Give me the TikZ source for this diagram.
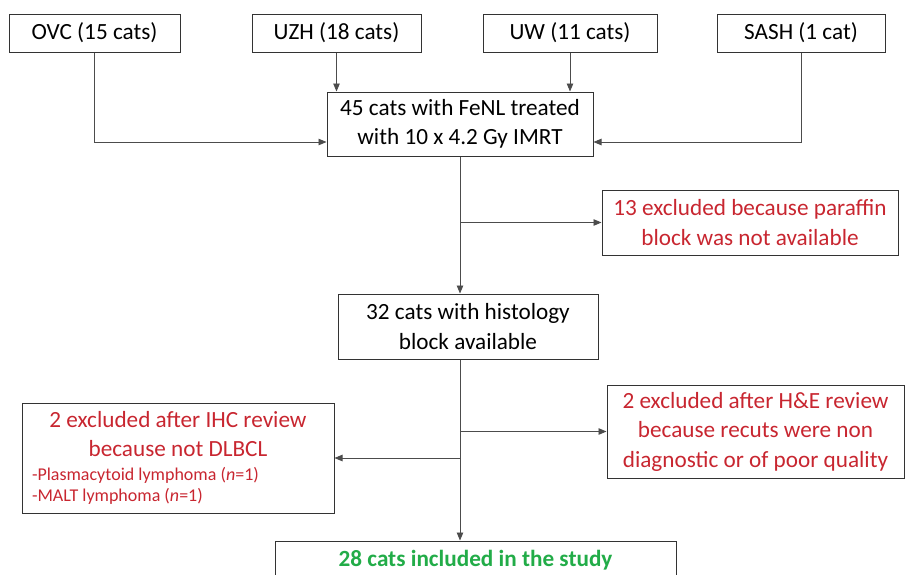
\documentclass[tikz,border=0pt]{standalone}
\usepackage{fontspec}
\setmainfont{Carlito}
\usetikzlibrary{arrows.meta}
\definecolor{exclred}{RGB}{200,38,48}
\definecolor{keepgreen}{RGB}{34,172,72}
\tikzset{
  box/.style={draw=black!80,line width=1pt,rectangle,inner sep=0pt,align=center,font=\fontsize{23.2}{29.5}\selectfont},
  excl/.style={box,text=exclred},
  flow/.style={draw=black!70,line width=0.9pt,-{Triangle[length=8pt,width=6.5pt]}},
}
\begin{document}
\begin{tikzpicture}[x=1pt,y=-1pt]
        \clip (0,0) rectangle (905,574);
        %% Centres
        \node[box,minimum width=171,minimum height=38] (ovc) at (94.5,33) {OVC (15 cats)};
        \node[box,minimum width=169,minimum height=38] (uzh) at (336.5,33) {UZH (18 cats)};
        \node[box,minimum width=174,minimum height=38] (uw) at (570,33) {UW (11 cats)};
        \node[box,minimum width=168,minimum height=38] (sash) at (801,33) {SASH (1 cat)};
        %% Main line
        \node[box,minimum width=266,minimum height=64] (treated) at (460,124) {45 cats with FeNL treated\\with 10 x 4.2 Gy IMRT};
        \node[box,minimum width=260,minimum height=65] (histo) at (468,326.5) {32 cats with histology\\block available};
        \node[box,minimum width=401,minimum height=38,font=\fontsize{23.2}{29.5}\selectfont\bfseries,text=keepgreen] (study) at (475.5,560) {28 cats included in the study};
        %% Exclusions
        \node[excl,minimum width=296,minimum height=65] (paraffin) at (750,222.5) {13 excluded because paraffin\\block was not available};
        \node[excl,minimum width=297,minimum height=93] (he) at (755.5,431.5) {2 excluded after H\&E review\\because recuts were non\\diagnostic or of poor quality};
        \node[excl,minimum width=312,minimum height=110] (ihc) at (178,458) {\parbox{292pt}{\centering 2 excluded after IHC review\\because not DLBCL\par\vspace{2pt}
            \raggedright\fontsize{18}{21.5}\selectfont -Plasmacytoid lymphoma (\textit{n}=1)\\-MALT lymphoma (\textit{n}=1)\par}};
        %% Sources into the treated box
        \draw[flow] (ovc.south) |- ([yshift=-18pt]treated.west);
        \draw[flow] (uzh.south) -- (uzh.south |- treated.north);
        \draw[flow] (uw.south) -- (uw.south |- treated.north);
        \draw[flow] (sash.south) |- ([yshift=-18pt]treated.east);
        %% Down the middle
        \draw[flow] (treated.south) -- (treated.south |- histo.north);
        \coordinate (cut1) at (treated.south |- paraffin.west);
        \draw[flow] (cut1) -- (paraffin.west);
        \draw[flow] (treated.south |- histo.south) -- (treated.south |- study.north);
        \coordinate (cut2) at (treated.south |- he.west);
        \coordinate (cut3) at (treated.south |- ihc.east);
        \draw[flow] (cut2) -- (he.west);
        \draw[flow] (cut3) -- (ihc.east);
\end{tikzpicture}
\end{document}
